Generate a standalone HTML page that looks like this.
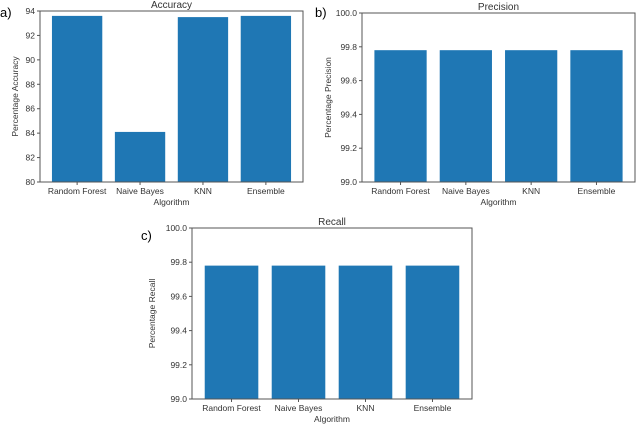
<!DOCTYPE html>
<html><head><meta charset="utf-8"><style>
body{margin:0;background:#fff;width:640px;height:425px;overflow:hidden;font-family:"Liberation Sans",sans-serif}
svg text{font-family:"Liberation Sans",sans-serif;fill:#333}
</style></head><body>
<svg id="s" width="640" height="425"></svg>
<script>
const categories = ["Random Forest","Naive Bayes","KNN","Ensemble"];
const accuracyValues = [93.6, 84.1, 93.5, 93.6];
const precisionValues = [99.78, 99.78, 99.78, 99.78];
const recallValues = [99.78, 99.78, 99.78, 99.78];
const accuracyTicks = [80,82,84,86,88,90,92,94];
const precisionTicks = [99.0,99.2,99.4,99.6,99.8,100.0];
const recallTicks = [99.0,99.2,99.4,99.6,99.8,100.0];

const svg = document.getElementById('s');
const NS = 'http://www.w3.org/2000/svg';
function mk(tag, attrs, parent){const e=document.createElementNS(NS,tag);for(const k in attrs)e.setAttribute(k,attrs[k]);(parent||svg).appendChild(e);return e;}

function panel(key, box, title, letter, letterPos, ylabel, ylabOff, values, ticks, ymin, ymax, dec){
  const g = mk('g',{});
  
  
  const [L,T,R,B]=box;
  const xs = v => L + (v + 0.59) / 4.18 * (R - L);
  const ys = v => B - (v - ymin) / (ymax - ymin) * (B - T);
  values.forEach((v,i)=>{
    const r = mk('rect',{x:xs(i-0.4),y:ys(v),width:xs(i+0.4)-xs(i-0.4),height:B-ys(v),fill:'#1f77b4'},g);
    
    
  });
  const f = mk('rect',{x:L,y:T,width:R-L,height:B-T,fill:'none',stroke:'#555','stroke-width':1},g);
  
  
  ticks.forEach(t=>{
    const y=ys(t);
    mk('line',{x1:L-3,x2:L,y1:y,y2:y,stroke:'#555'},g);
    const tx=mk('text',{x:L-5,y:y+3,'font-size':'8.5','text-anchor':'end'},g);
    tx.textContent = t.toFixed(dec);
    
    
  });
  categories.forEach((c,i)=>{
    const x=xs(i);
    mk('line',{x1:x,x2:x,y1:B,y2:B+3,stroke:'#555'},g);
    const tx=mk('text',{x:x,y:B+12,'font-size':'8.5','text-anchor':'middle'},g);
    tx.textContent=c;
    
    
  });
  const xt=mk('text',{x:(L+R)/2,y:B+23,'font-size':'8.5','text-anchor':'middle'},g);
  xt.textContent='Algorithm';
  
  
  const yt=mk('text',{x:0,y:0,'font-size':'8.5','text-anchor':'middle',transform:`translate(${L-ylabOff},${(T+B)/2}) rotate(-90)`},g);
  yt.textContent=ylabel;
  
  
  const tt=mk('text',{x:(L+R)/2,y:T-3,'font-size':'10','text-anchor':'middle'},g);
  tt.textContent=title;
  
  
  const lt=mk('text',{x:letterPos[0],y:letterPos[1],'font-size':'13'},g);
  lt.style.fill='#000';
  lt.textContent=letter;
  
  
}
panel('accuracy',[40,11,303,182],'Accuracy','a)',[0,17],'Percentage Accuracy',22,accuracyValues,accuracyTicks,80,94,0);
panel('precision',[362,13,635,182],'Precision','b)',[315,17],'Percentage Precision',31,precisionValues,precisionTicks,99,100,1);
panel('recall',[192,228,472,399],'Recall','c)',[141,240],'Percentage Recall',37,recallValues,recallTicks,99,100,1);
</script>
</body></html>
